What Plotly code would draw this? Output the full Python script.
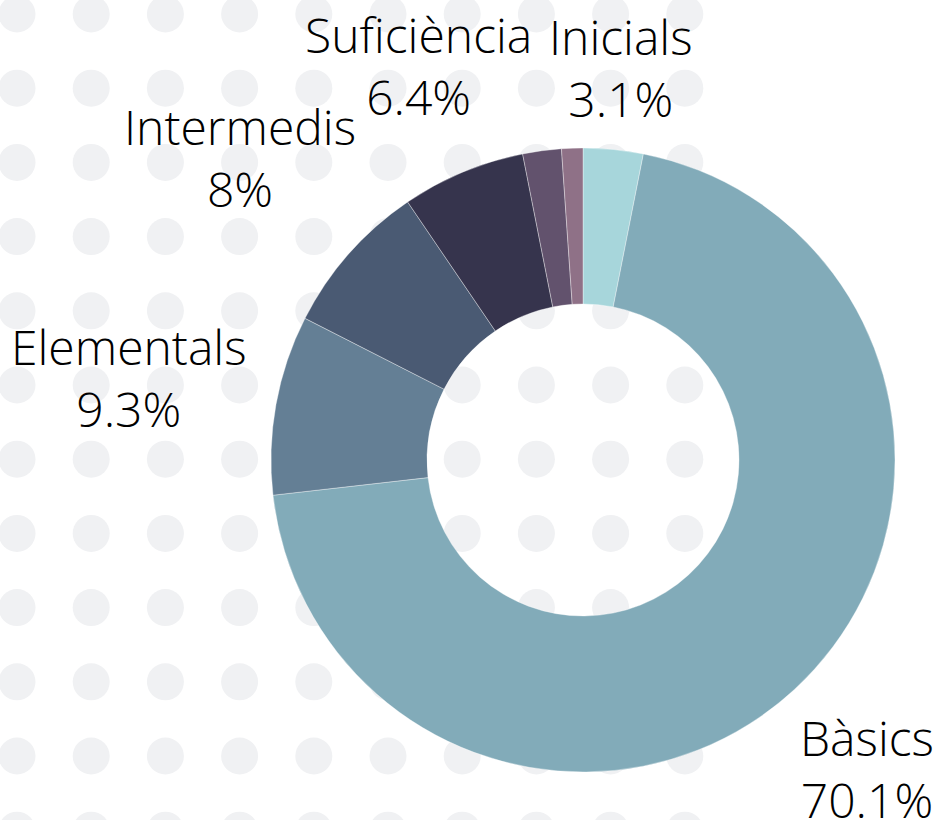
import math
import plotly.graph_objects as go

# Data
categories = ["Inicials", "Bàsics", "Elementals", "Intermedis", "Suficiència", "Superiors", "Altres"]
values = [3.1, 70.1, 9.3, 8.0, 6.4, 2.0, 1.1]
colors = ["#a7d6db", "#82abb9", "#647f95", "#4a5a73", "#36344d", "#62526d", "#8f7187"]
show_label = [True, True, True, True, True, False, False]

W, H = 939, 820
cx, cy, R = 583, 460, 312      # pie centre and radius in pixels
FONT_SIZE = 48
LABEL_GAP = 26


def fx(x):
    return x / W


def fy(y):
    return 1 - y / H


# approximate advance widths (em) of Open Sans Light, used to size label boxes
_ADV = {"I": .27, "n": .61, "i": .25, "c": .48, "a": .56, "l": .25, "s": .47,
        ".": .27, "%": .83, "B": .63, "à": .56, "E": .55, "e": .55, "m": .93,
        "t": .35, "r": .41, "d": .61, "S": .53, "u": .61, "f": .34, "è": .55}


def text_width(s):
    return sum(_ADV.get(ch, .56) for ch in s) * FONT_SIZE * 0.955


fig = go.Figure(go.Pie(
    labels=categories,
    values=values,
    sort=False,
    direction="clockwise",
    rotation=0,
    hole=0.5,
    automargin=False,
    marker=dict(colors=colors, line=dict(color="rgba(255,255,255,0.6)", width=0.6)),
    textinfo="none",
    hoverinfo="label+percent",
    showlegend=False,
    domain=dict(x=[fx(cx - R), fx(cx + R)], y=[fy(cy + R), fy(cy - R)]),
))

# outside labels placed along each slice's mid-angle
total = sum(values)
annotations = []
cum = 0.0
for name, v, show in zip(categories, values, show_label):
    mid = (cum + v / 2) / total * 2 * math.pi
    cum += v
    if not show:
        continue
    pct = f"{v / total * 100:.3g}%"
    hw = max(text_width(name), text_width(pct)) / 2
    hh = 50
    s, c = math.sin(mid), math.cos(mid)
    d = R + LABEL_GAP + hw * abs(s) + hh * abs(c)
    lx = cx + d * s
    ly = cy - d * c
    annotations.append(dict(
        x=fx(lx), y=fy(ly), xref="paper", yref="paper",
        xanchor="center", yanchor="middle", showarrow=False,
        text=f"{name}<br>{pct}", align="center",
        font=dict(family="Open Sans", size=FONT_SIZE, color="#000000", weight=300),
    ))

# dotted background decoration
shapes = []
step = 74.2
rad = 18.5
for i in range(10):
    for j in range(12):
        x0 = 17 + step * i
        y0 = 14 + step * j
        shapes.append(dict(
            type="circle", xref="paper", yref="paper", layer="below",
            x0=fx(x0 - rad), x1=fx(x0 + rad),
            y0=fy(y0 + rad), y1=fy(y0 - rad),
            fillcolor="#f0f1f3", line=dict(width=0),
        ))

fig.update_layout(
    template="none",
    width=W, height=H,
    margin=dict(l=0, r=0, t=0, b=0, autoexpand=False),
    paper_bgcolor="white",
    plot_bgcolor="white",
    shapes=shapes,
    annotations=annotations,
)

fig.write_html("out.html", config={"displayModeBar": False},
               post_script="document.body.style.margin='0px';")
